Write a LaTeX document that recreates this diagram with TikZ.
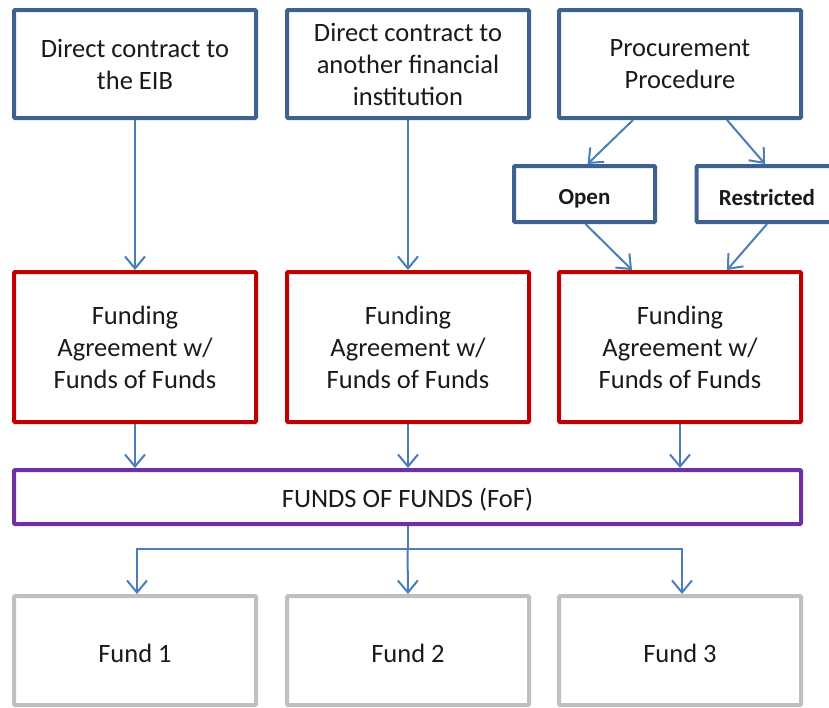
\documentclass[tikz,border=0pt]{standalone}
\usepackage{fontspec}
\setmainfont{Carlito}
\usetikzlibrary{arrows.meta,calc}
\definecolor{boxblue}{HTML}{3E6192}
\definecolor{boxred}{HTML}{C00000}
\definecolor{boxpurple}{HTML}{7030A0}
\definecolor{boxgray}{HTML}{BFBFBF}
\definecolor{arrowblue}{HTML}{4A7EBB}
\definecolor{txt}{HTML}{1A1A1A}
\begin{document}
\begin{tikzpicture}[x=1pt,y=-1pt,
  base/.style={rectangle,line width=4pt,fill=white,align=center,text=txt,
    font=\fontsize{26.5}{32}\selectfont,inner sep=0pt,rounded corners=1pt,
    execute at begin node={\rule{0pt}{24pt}}},
  bluebox/.style={base,draw=boxblue,minimum width=242pt,minimum height=108pt},
  smallbox/.style={base,draw=boxblue,minimum width=141pt,minimum height=56pt,
    font=\fontsize{23}{28}\selectfont\bfseries,
    execute at begin node={\rule{0pt}{20pt}}},
  redbox/.style={base,draw=boxred,minimum width=242pt,minimum height=150pt},
  fofbox/.style={base,draw=boxpurple,minimum width=787pt,minimum height=54pt},
  fundbox/.style={base,draw=boxgray,minimum width=242pt,minimum height=109pt},
  conn/.style={draw=arrowblue,line width=2pt,-{Straight Barb[length=12pt,width=20pt,line width=2pt]}}
]
\useasboundingbox (0,0) rectangle (829,707);
\clip (0,0) rectangle (829,707);

\node[bluebox] (eib) at (135,64) {Direct contract to\\the EIB};
\node[bluebox] (fin) at (408,64) {Direct contract to\\another financial\\institution};
\node[bluebox] (proc) at (680,64) {Procurement\\Procedure};

\node[smallbox] (open) at (584.5,194) {Open};
\node[smallbox] (restr) at (767,194) {Restricted};

\node[redbox] (fa1) at (135,347) {Funding\\Agreement w/\\Funds of Funds};
\node[redbox] (fa2) at (408,347) {Funding\\Agreement w/\\Funds of Funds};
\node[redbox] (fa3) at (680,347) {Funding\\Agreement w/\\Funds of Funds};

\node[fofbox] (fof) at (407.5,497) {FUNDS OF FUNDS (FoF)};

\node[fundbox] (f1) at (135,650.5) {Fund 1};
\node[fundbox] (f2) at (408,650.5) {Fund 2};
\node[fundbox] (f3) at (680,650.5) {Fund 3};

\draw[conn] (eib.south) -- (fa1.north);
\draw[conn] (fin.south) -- (fa2.north);
\draw[conn] ($(proc.south)+(-47,0)$) -- ($(open.north)+(3,0)$);
\draw[conn] ($(proc.south)+(47,0)$) -- ($(restr.north)+(-2,0)$);
\draw[conn] ($(open.south)+(1,0)$) -- ($(fa3.north)+(-48,0)$);
\draw[conn] (restr.south) -- ($(fa3.north)+(47,0)$);

\draw[conn] (fa1.south) -- (fa1.south |- fof.north);
\draw[conn] (fa2.south) -- (fa2.south |- fof.north);
\draw[conn] (fa3.south) -- (fa3.south |- fof.north);

\coordinate (split) at ($(fof.south)+(0,23)$);
\draw[conn] (fof.south) -- (split) -| ($(f1.north)+(2,0)$);
\draw[conn] (split) -- (f2.north);
\draw[conn] (split) -| ($(f3.north)+(2,0)$);
\end{tikzpicture}
\end{document}
